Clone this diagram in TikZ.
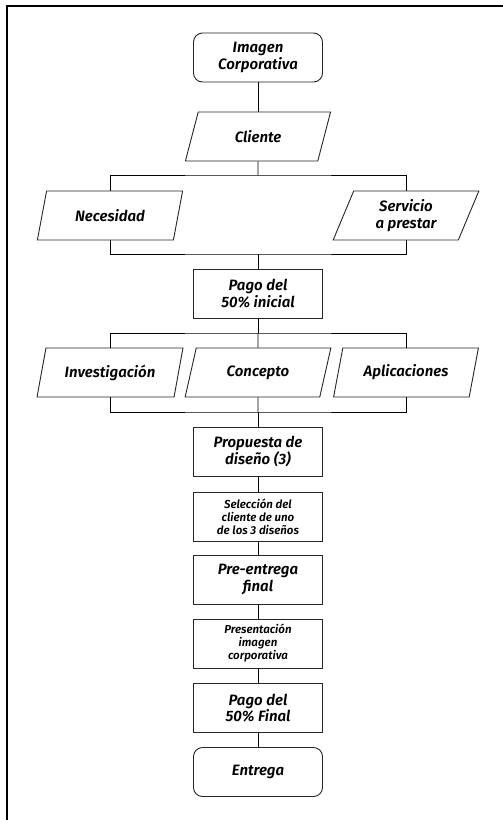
\documentclass[tikz,border=0pt]{standalone}
\usepackage{fontspec}
\setmainfont{Fira Sans}[BoldItalicFont={Fira Sans SemiBold Italic}]
\usetikzlibrary{shapes.geometric}

\tikzset{
  box/.style={draw=black!85, line width=0.9pt, minimum width=129pt, minimum height=49pt,
    inner sep=1pt, align=center, font=\fontsize{15}{16.5}\selectfont\bfseries\itshape},
  term/.style={box, rounded corners=9pt},
  small/.style={font=\fontsize{11.5}{13}\selectfont\bfseries\itshape},
  para/.style={box, trapezium, trapezium stretches=true, trapezium left angle=70,
    trapezium right angle=110, minimum width=146pt},
  link/.style={draw=black, line width=0.8pt},
  frame/.style={draw=black, line width=2pt}
}

\begin{document}
\begin{tikzpicture}[x=1pt, y=-1pt]
  \fill[white] (0,0) rectangle (503,820);
  \useasboundingbox (0,0) rectangle (503,820);
  \draw[frame] (6.5,821) -- (6.5,6) -- (504,6);

  % main column
  \node[term] (img) at (258,57.5) {Imagen\\Corporativa};
  \node[para] (cli) at (258,136.5) {Cliente};
  \node[para] (nec) at (110,215.5) {Necesidad};
  \node[para] (srv) at (406,215.5) {Servicio\\a prestar};
  \node[box]  (pg1) at (258,293.5) {Pago del\\50\% inicial};
  \node[para] (inv) at (110,372.5) {Investigación};
  \node[para] (con) at (258,372.5) {Concepto};
  \node[para] (apl) at (406,372.5) {Aplicaciones};
  \node[box]  (pro) at (258,451.5) {Propuesta de\\diseño (3)};
  \node[box, small] (sel) at (258,516.5) {Selección del\\cliente de uno\\de los 3 diseños};
  \node[box]  (pre) at (258,579.5) {Pre-entrega\\final};
  \node[box, small] (prs) at (258,643.5) {Presentación\\imagen\\corporativa};
  \node[box]  (pg2) at (258,708) {Pago del\\50\% Final};
  \node[term] (ent) at (258,772) {Entrega};

  % branch and merge points
  \coordinate (b1) at (258,175);
  \coordinate (m1) at (258,254);
  \coordinate (b2) at (258,333);
  \coordinate (m2) at (258,412);

  \draw[link] (img) -- (cli);
  \draw[link] (cli.south) -- (b1);
  \draw[link] (nec.north) |- (b1) -| (srv.north);
  \draw[link] (nec.south) |- (m1) -| (srv.south);
  \draw[link] (m1) -- (pg1.north);
  \draw[link] (pg1.south) -- (b2);
  \draw[link] (inv.north) |- (b2) -| (apl.north);
  \draw[link] (b2) -- (con.north);
  \draw[link] (inv.south) |- (m2) -| (apl.south);
  \draw[link] (con.south) -- (m2);
  \draw[link] (m2) -- (pro.north);
  \draw[link] (pro) -- (sel);
  \draw[link] (sel) -- (pre);
  \draw[link] (pre) -- (prs);
  \draw[link] (prs) -- (pg2);
  \draw[link] (pg2) -- (ent);
\end{tikzpicture}
\end{document}
